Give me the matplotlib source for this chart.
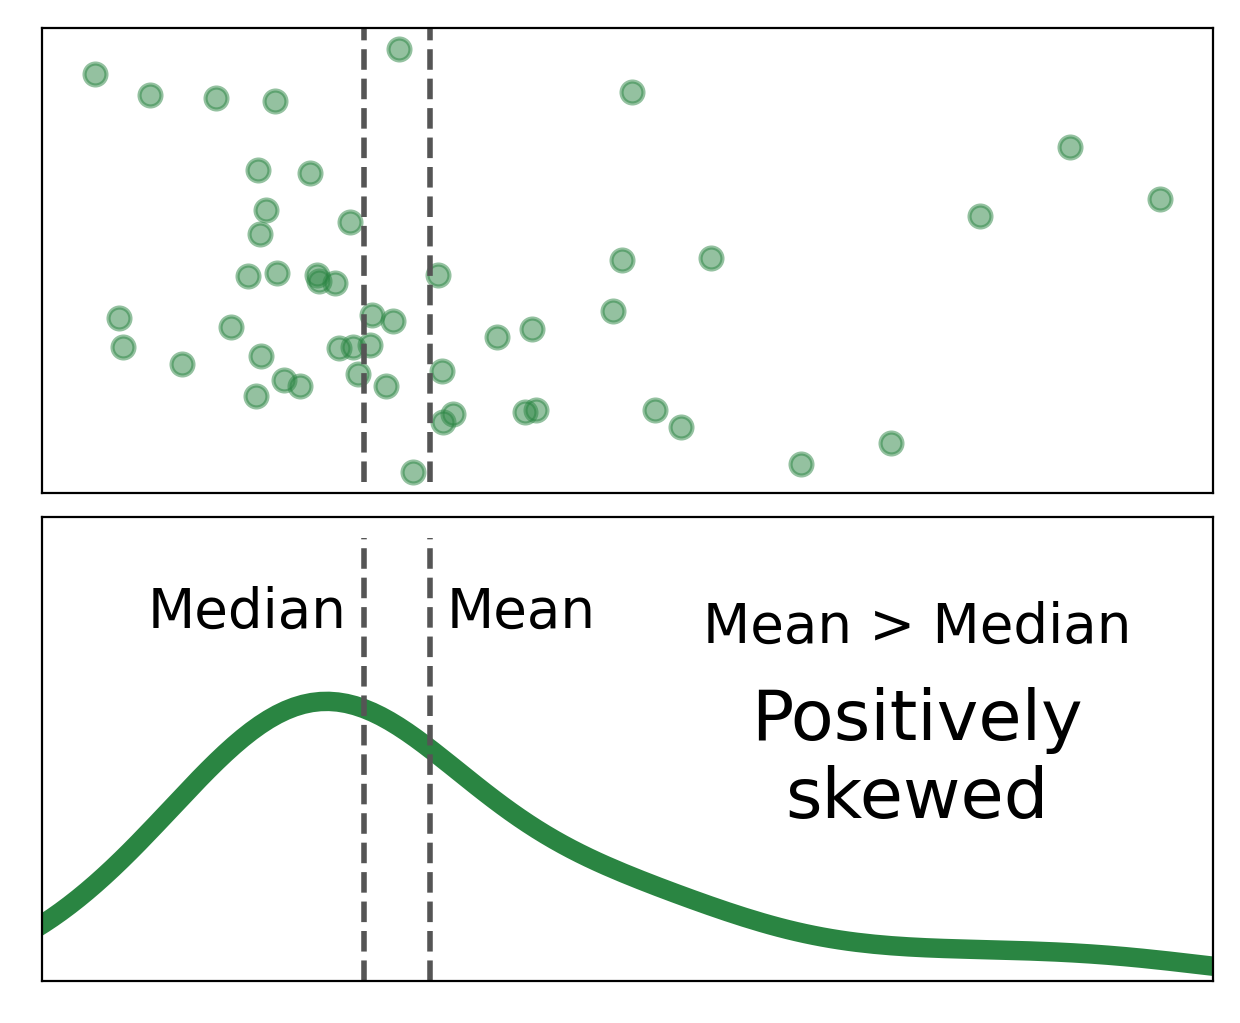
import numpy as np
import matplotlib.pyplot as plt

# sample values and the vertical jitter used for the strip plot
values = [28.52, 0.00, 5.16, 11.36, 16.90, 15.31, 20.19, 16.06, 23.94, 15.49,
          14.34, 17.09, 20.82, 20.98, 22.51, 32.18, 2.23, 12.74, 25.98, 27.95,
          2.63, 22.88, 24.23, 25.79, 8.14, 15.59, 24.69, 32.58, 17.75, 19.22,
          27.32, 15.12, 33.56, 32.71, 29.86, 50.42, 49.48, 57.84, 48.64, 37.75,
          41.03, 40.32, 41.41, 52.58, 55.02, 66.29, 91.55, 83.10, 100.00, 74.74]
jitter = [1.000, 0.941, 0.891, 0.884, 0.877, 0.714, 0.707, 0.620, 0.591, 0.563,
          0.464, 0.471, 0.466, 0.451, 0.447, 0.466, 0.365, 0.343, 0.370, 0.358,
          0.296, 0.292, 0.295, 0.299, 0.256, 0.275, 0.232, 0.239, 0.218, 0.204,
          0.204, 0.180, 0.137, 0.117, 0.000, 0.898, 0.502, 0.506, 0.381, 0.320,
          0.339, 0.142, 0.147, 0.147, 0.107, 0.019, 0.769, 0.606, 0.646, 0.069]

green = '#2a8542'
grey = '#555555'

values = np.array(values)
median = np.median(values)
mean = values.mean()

# gaussian kde, scott's rule (what seaborn's kdeplot does by default)
bw = values.std(ddof=1) * len(values) ** (-0.2)
grid = np.linspace(values.min() - 3 * bw, values.max() + 3 * bw, 200)
z = (grid[:, None] - values[None, :]) / bw
density = np.exp(-0.5 * z ** 2).sum(axis=1) / (len(values) * bw * np.sqrt(2 * np.pi))

fig = plt.figure(figsize=(6.2, 5.115), dpi=200)
ax_top = fig.add_axes([0.0339, 0.5181, 0.9444, 0.4545])
ax_bot = fig.add_axes([0.0339, 0.0411, 0.9444, 0.4536], sharex=ax_top)

# strip of points
ax_top.scatter(values, jitter, s=62, color=green, alpha=0.5, linewidths=1.5)
ax_top.axvline(median, ymin=0.024, color=grey, ls='--', lw=2)
ax_top.axvline(mean, ymin=0.024, color=grey, ls='--', lw=2)

# density
ax_bot.plot(grid, density, color=green, lw=7)
ax_bot.set_ylim(0, 0.035)
ax_bot.axvline(median, ymax=0.955, color=grey, ls='--', lw=2)
ax_bot.axvline(mean, ymax=0.955, color=grey, ls='--', lw=2)

pad = 0.05 * (values.max() - values.min())
ax_top.set_xlim(values.min() - pad, values.max() + pad)

trans = ax_bot.get_xaxis_transform()
ax_bot.text(median - 1.6, 0.761, 'Median', transform=trans, ha='right',
            va='baseline', fontsize=19.7)
ax_bot.text(mean + 1.6, 0.761, 'Mean', transform=trans, ha='left',
            va='baseline', fontsize=19.7)
ax_bot.text(0.747, 0.728, 'Mean > Median', transform=ax_bot.transAxes,
            ha='center', va='baseline', fontsize=19.7)
ax_bot.text(0.747, 0.351, 'Positively\nskewed', transform=ax_bot.transAxes,
            ha='center', va='baseline', multialignment='center', fontsize=25.3)

for ax in (ax_top, ax_bot):
    ax.set_xticks([])
    ax.set_yticks([])

fig.savefig('out.png', dpi=200)
